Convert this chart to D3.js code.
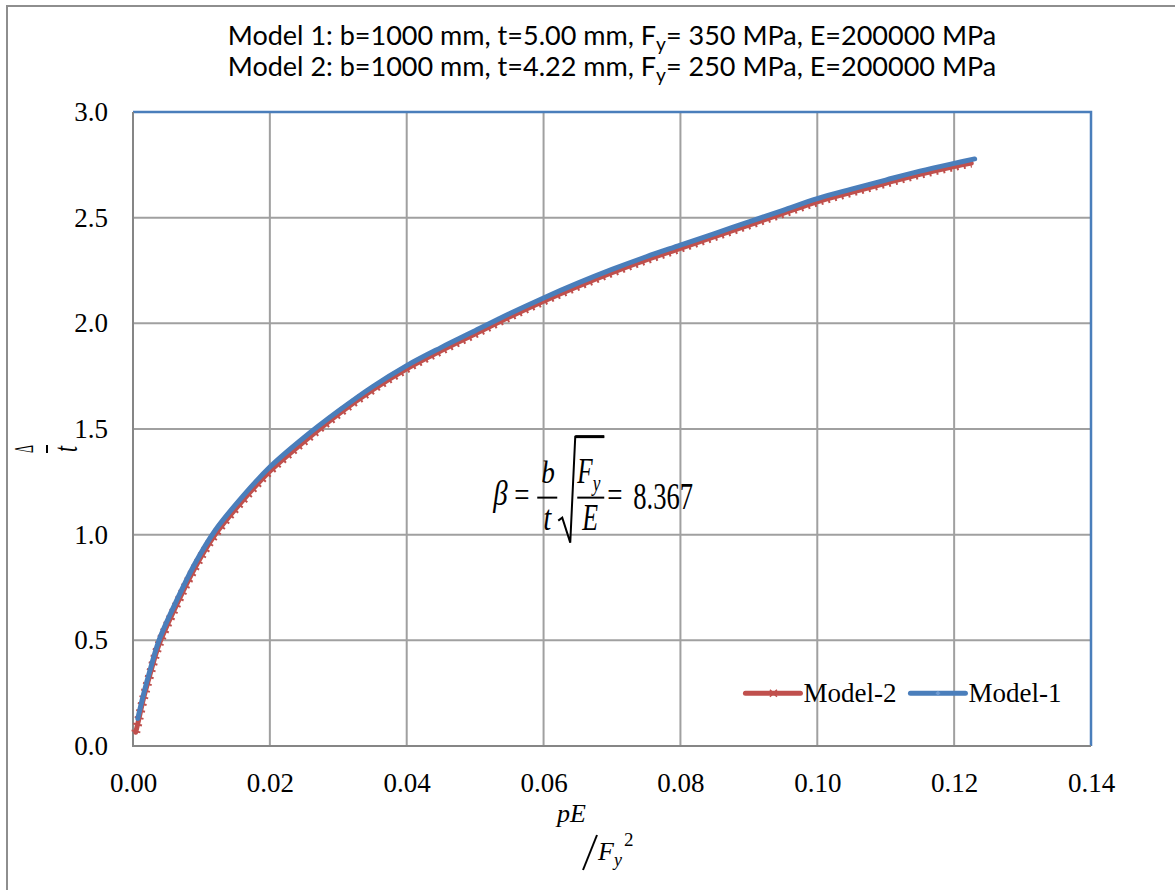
<!DOCTYPE html>
<html>
<head>
<meta charset="utf-8">
<script src="https://cdn.jsdelivr.net/npm/d3@7"></script>
<style>
  body { margin: 0; background: #fff; }
</style>
</head>
<body>
<svg id="chart" width="1175" height="890"></svg>
<script>
// ---- data ----
const xTicks = [0, 0.02, 0.04, 0.06, 0.08, 0.10, 0.12, 0.14];
const yTicks = [0, 0.5, 1.0, 1.5, 2.0, 2.5, 3.0];

const model1X = [0.0007, 0.0015, 0.0025, 0.0038, 0.0064, 0.009, 0.012, 0.016, 0.020, 0.025, 0.030, 0.035, 0.040, 0.045, 0.050,
  0.055, 0.060, 0.065, 0.070, 0.075, 0.080, 0.085, 0.090, 0.095, 0.100, 0.105, 0.110, 0.115, 0.120, 0.123];
const model1Y = [0.13, 0.24, 0.36, 0.50, 0.69, 0.86, 1.02, 1.18, 1.32, 1.46, 1.585, 1.70, 1.80, 1.885, 1.965,
  2.045, 2.12, 2.19, 2.255, 2.315, 2.37, 2.425, 2.48, 2.535, 2.59, 2.635, 2.678, 2.72, 2.757, 2.778];

const model2X = [0.0004, 0.0008, 0.0015, 0.0025, 0.0038, 0.0064, 0.009, 0.012, 0.016, 0.020, 0.025, 0.030, 0.035, 0.040, 0.045,
  0.050, 0.055, 0.060, 0.065, 0.070, 0.075, 0.080, 0.085, 0.090, 0.095, 0.100, 0.105, 0.110, 0.115, 0.120, 0.1225];
const model2Y = [0.065, 0.12, 0.22, 0.34, 0.48, 0.67, 0.84, 1.00, 1.16, 1.30, 1.44, 1.57, 1.685, 1.785, 1.87,
  1.95, 2.03, 2.105, 2.175, 2.24, 2.30, 2.355, 2.41, 2.465, 2.52, 2.575, 2.62, 2.663, 2.705, 2.742, 2.758];

const seriesNames = ["Model-2", "Model-1"];
const titleLines = [
  ["Model 1: b=1000 mm, t=5.00 mm, F", "y", "= 350 MPa, E=200000 MPa"],
  ["Model 2: b=1000 mm, t=4.22 mm, F", "y", "= 250 MPa, E=200000 MPa"]
];
const betaText = "8.367";

// ---- layout ----
const width = 1175, height = 890;
const plot = { left: 133, right: 1091, top: 112, bottom: 746 };
const red = "#c0504d", blue = "#4a7ebb", grid = "#a0a0a0", axisGray = "#868686";
const serif = "'Liberation Serif', 'Times New Roman', serif";

const x = d3.scaleLinear().domain([0, 0.14]).range([plot.left, plot.right]);
const y = d3.scaleLinear().domain([0, 3]).range([plot.bottom, plot.top]);

const svg = d3.select("#chart");

svg.append("rect").attr("width", width).attr("height", height).attr("fill", "#fff");
// outer chart border (runs past the right / bottom edge)
svg.append("rect")
  .attr("x", 7).attr("y", 6).attr("width", 1250).attr("height", 1000)
  .attr("fill", "none").attr("stroke", "#8e8e8e").attr("stroke-width", 2);

// gridlines
svg.append("g")
  .selectAll("line")
  .data(xTicks.slice(1, -1))
  .join("line")
  .attr("x1", d => x(d)).attr("x2", d => x(d))
  .attr("y1", y(3)).attr("y2", y(0))
  .attr("stroke", grid).attr("stroke-width", 2);

svg.append("g")
  .selectAll("line")
  .data(yTicks.slice(1, -1))
  .join("line")
  .attr("x1", x(0)).attr("x2", x(0.14))
  .attr("y1", d => y(d)).attr("y2", d => y(d))
  .attr("stroke", grid).attr("stroke-width", 2);

// plot area frame: top/right blue, left/bottom gray axes
svg.append("path")
  .attr("d", `M${x(0)},${y(3)}H${x(0.14)}V${y(0)}`)
  .attr("fill", "none").attr("stroke", blue).attr("stroke-width", 2.5);
svg.append("path")
  .attr("d", `M${x(0)},${y(3)}V${y(0)}H${x(0.14)}`)
  .attr("fill", "none").attr("stroke", axisGray).attr("stroke-width", 2);

// axes tick labels
const xAxis = svg.append("g")
  .attr("transform", `translate(0,${y(0)})`)
  .call(d3.axisBottom(x).tickValues(xTicks).tickFormat(d3.format(".2f")).tickSize(0).tickPadding(27));
const yAxis = svg.append("g")
  .attr("transform", `translate(${x(0)},0)`)
  .call(d3.axisLeft(y).tickValues(yTicks).tickFormat(d3.format(".1f")).tickSize(0).tickPadding(25));
[xAxis, yAxis].forEach(a => {
  a.select(".domain").remove();
  a.selectAll("text").attr("font-family", serif).attr("font-size", 27).attr("fill", "#000");
});

// series
const line = d3.line().x(d => x(d[0])).y(d => y(d[1])).curve(d3.curveCatmullRom.alpha(0.5));
const m1 = model1X.map((v, i) => [v, model1Y[i]]);
const m2 = model2X.map((v, i) => [v, model2Y[i]]);

// Model-2: red line with dense small x markers (drawn as a dotted halo)
svg.append("path").attr("d", line(m2))
  .attr("fill", "none").attr("stroke", red).attr("stroke-width", 9)
  .attr("stroke-dasharray", "2 5");
svg.append("path").attr("d", line(m2))
  .attr("fill", "none").attr("stroke", red).attr("stroke-width", 5)
  .attr("stroke-linecap", "round");
// Model-1: blue line
svg.append("path").attr("d", line(m1))
  .attr("fill", "none").attr("stroke", blue).attr("stroke-width", 5)
  .attr("stroke-linecap", "round");

// legend
const legend = svg.append("g").attr("transform", `translate(${x(0.0895)},${y(0.25)})`);
const legendItems = [
  { name: seriesNames[0], color: red, dx: 0 },
  { name: seriesNames[1], color: blue, dx: 165 }
];
const li = legend.selectAll("g").data(legendItems).join("g")
  .attr("transform", d => `translate(${d.dx},0)`);
li.append("line").attr("x1", 0).attr("x2", 55).attr("y1", 0).attr("y2", 0)
  .attr("stroke", d => d.color).attr("stroke-width", 5).attr("stroke-linecap", "round");
li.filter((d, i) => i === 0).append("path")
  .attr("d", "M24.5,-3.5L31.5,3.5M24.5,3.5L31.5,-3.5")
  .attr("stroke", red).attr("stroke-width", 1.5);
li.filter((d, i) => i === 1).append("path")
  .attr("d", "M27.5,-2.5L30,0L27.5,2.5L25,0Z")
  .attr("fill", "#6f9ad0");
li.append("text").attr("x", 58).attr("y", 9)
  .attr("font-family", serif).attr("font-size", 27).attr("fill", "#000")
  .text(d => d.name);

// title
const title = svg.append("g").attr("font-family", "Lato, 'Open Sans', sans-serif").attr("fill", "#000");
titleLines.forEach((parts, i) => {
  const t = title.append("text")
    .attr("x", 612).attr("y", 45 + i * 31)
    .attr("text-anchor", "middle").attr("font-size", 24);
  t.append("tspan").text(parts[0]);
  t.append("tspan").attr("dy", 6).attr("font-size", 17).text(parts[1]);
  t.append("tspan").attr("dy", -6).text(parts[2]);
  const w = t.node().getComputedTextLength();
  t.attr("font-size", 24 * 769 / w);
  t.select("tspan:nth-child(2)").attr("font-size", 17 * 769 / w);
});

// narrow math text: placed at (px, py) and squeezed horizontally by sx
function mathText(parent, s, px, py, size, sx, italic) {
  return parent.append("text")
    .attr("transform", `translate(${px},${py}) scale(${sx},1)`)
    .attr("font-size", size)
    .attr("font-style", italic ? "italic" : "normal")
    .text(s);
}

// y-axis label: rotated fraction  Δ / t
const yl = svg.append("g").attr("transform", "translate(47,449) rotate(-90)")
  .attr("font-family", serif).attr("fill", "#000");
mathText(yl, "Δ", -4, -14, 28, 0.45, false);
yl.append("line").attr("x1", -4).attr("x2", 4).attr("y1", 0).attr("y2", 0)
  .attr("stroke", "#000").attr("stroke-width", 2);
mathText(yl, "t", -3, 30, 33, 0.65, true);

// x-axis label:  pE / F_y^2
const xl = svg.append("g").attr("font-family", serif).attr("font-style", "italic").attr("fill", "#000");
xl.append("text").attr("x", 557).attr("y", 822).attr("font-size", 26).text("pE");
xl.append("line").attr("x1", 597).attr("y1", 835).attr("x2", 583).attr("y2", 870)
  .attr("stroke", "#000").attr("stroke-width", 2);
const fy2 = xl.append("text").attr("x", 598).attr("y", 860).attr("font-size", 26);
fy2.append("tspan").text("F");
fy2.append("tspan").attr("dy", 6).attr("font-size", 18).text("y");
fy2.append("tspan").attr("dy", -20).attr("dx", 2).attr("font-size", 19).attr("font-style", "normal").text("2");

// formula annotation: β = b/t √(F_y/E) = 8.367
const fx = x(0.0525), fyy = y(1.18);
const fm = svg.append("g").attr("transform", `translate(${fx},${fyy})`)
  .attr("font-family", serif).attr("fill", "#000");
mathText(fm, "β", 1, 8, 36, 0.8, true);
mathText(fm, "=", 22, 10, 36, 0.75, false);
mathText(fm, "b", 49, -14, 32, 0.85, true);
fm.append("line").attr("x1", 45).attr("x2", 65).attr("y1", 1).attr("y2", 1).attr("stroke", "#000").attr("stroke-width", 2);
mathText(fm, "t", 51, 33, 36, 0.8, true);
fm.append("path").attr("d", "M66,24L70,21L78,46L83,-60H112")
  .attr("fill", "none").attr("stroke", "#000").attr("stroke-width", 2);
fm.append("line").attr("x1", 83).attr("x2", 112).attr("y1", -60).attr("y2", -60).attr("stroke", "#000").attr("stroke-width", 3);
const fyt = mathText(fm, "", 85, -14, 35, 0.72, true);
fyt.append("tspan").text("F");
fyt.append("tspan").attr("dy", 8).attr("font-size", 24).text("y");
fm.append("line").attr("x1", 85).attr("x2", 112).attr("y1", 1).attr("y2", 1).attr("stroke", "#000").attr("stroke-width", 2);
mathText(fm, "E", 90, 33, 37, 0.7, true);
mathText(fm, "=", 115, 10, 36, 0.75, false);
mathText(fm, betaText, 141, 12, 38, 0.7, false);
</script>
</body>
</html>
